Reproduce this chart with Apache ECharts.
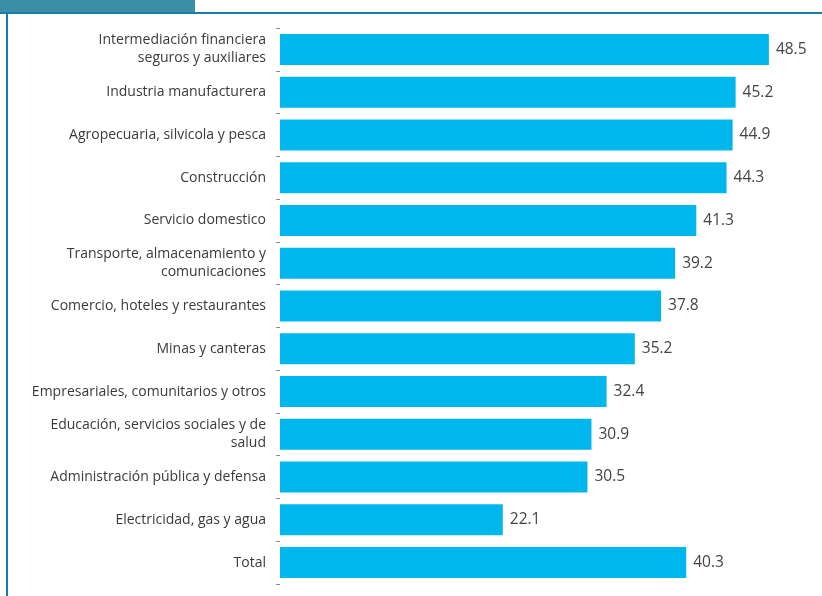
<!DOCTYPE html>
<html>
<head>
<meta charset="utf-8">
<script src="https://cdn.jsdelivr.net/npm/echarts@6/dist/echarts.min.js"></script>
<style>
html,body{margin:0;padding:0;background:#fff;}
#chart{width:822px;height:596px;}
</style>
</head>
<body>
<div id="chart"></div>
<script>
const categories = [
  "Intermediación financiera\nseguros y auxiliares",
  "Industria manufacturera",
  "Agropecuaria, silvicola y pesca",
  "Construcción",
  "Servicio domestico",
  "Transporte, almacenamiento y\ncomunicaciones",
  "Comercio, hoteles y restaurantes",
  "Minas y canteras",
  "Empresariales, comunitarios y otros",
  "Educación, servicios sociales y de\nsalud",
  "Administración pública y defensa",
  "Electricidad, gas y agua",
  "Total"
];
const values = [48.5, 45.2, 44.9, 44.3, 41.3, 39.2, 37.8, 35.2, 32.4, 30.9, 30.5, 22.1, 40.3];

const chart = echarts.init(document.getElementById('chart'), null, {renderer: 'canvas'});
chart.setOption({
  animation: false,
  backgroundColor: '#ffffff',
  graphic: [
    {type: 'rect', shape: {x: 0, y: 0, width: 195, height: 12}, style: {fill: '#3a8ea8'}},
    {type: 'rect', shape: {x: 0, y: 12, width: 822, height: 2}, style: {fill: '#1a7dab'}},
    {type: 'rect', shape: {x: 6, y: 12, width: 2, height: 584}, style: {fill: '#1a7dab'}}
  ],
  grid: {left: 280, top: 28, width: 504, bottom: 12, containLabel: false},
  xAxis: {
    type: 'value', min: 0, max: 50, show: false
  },
  yAxis: {
    type: 'category',
    inverse: true,
    data: categories,
    axisLine: {show: false},
    axisTick: {show: true, length: 4, lineStyle: {color: '#888', width: 1}},
    axisLabel: {
      color: '#3a3a3a',
      fontSize: 14,
      fontFamily: '"Open Sans", sans-serif',
      margin: 14,
      align: 'right',
      lineHeight: 18
    }
  },
  series: [{
    type: 'bar',
    data: values,
    barWidth: 31,
    itemStyle: {color: '#00b7ed'},
    label: {
      show: true,
      position: 'right',
      distance: 7,
      color: '#444',
      fontSize: 15.5,
      fontFamily: '"Open Sans", sans-serif',
      formatter: p => p.value.toFixed(1)
    }
  }]
});
</script>
</body>
</html>
